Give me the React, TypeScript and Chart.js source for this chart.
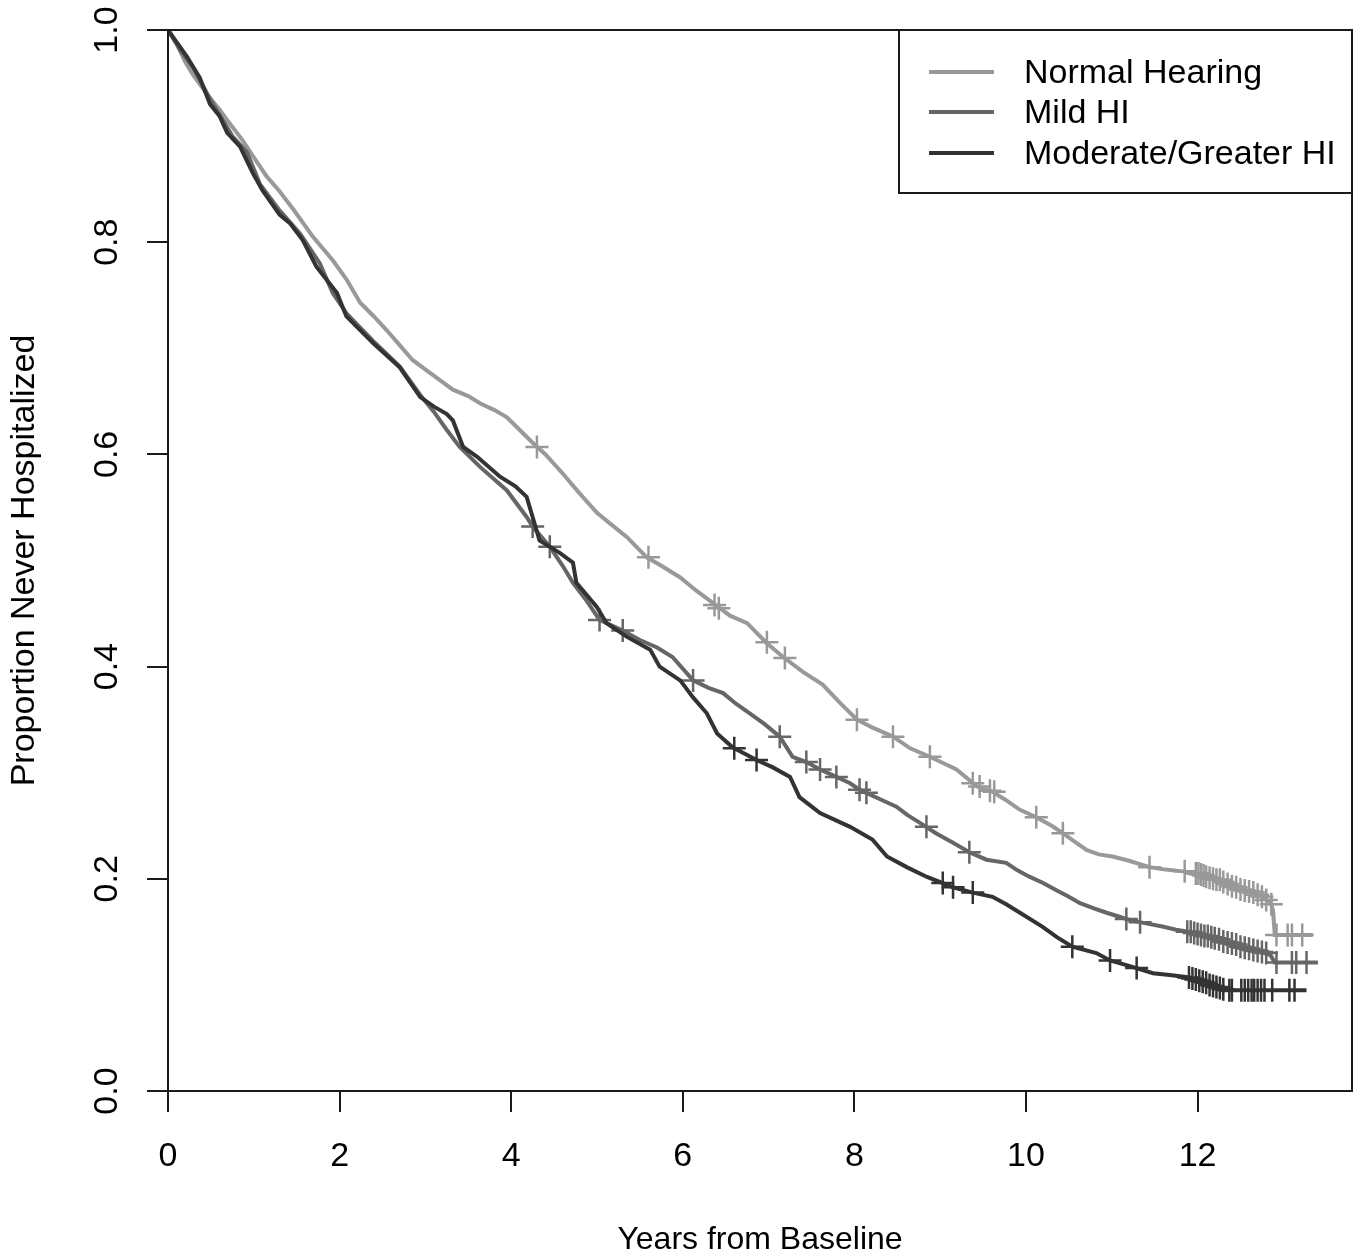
import React, { useEffect, useRef } from "react";
import { Chart, registerables } from "chart.js";

Chart.register(...registerables);

const FONT = '"Liberation Sans", Arial, Helvetica, sans-serif';

const seriesNames = ["Normal Hearing", "Mild HI", "Moderate/Greater HI"];
const seriesColors = ["#999999", "#666666", "#333333"];

const xTitle = "Years from Baseline";
const yTitle = "Proportion Never Hospitalized";

// Normal Hearing survival curve (years, proportion)
const normalT = [0, 0.1, 0.2, 0.29, 0.45, 0.6, 0.69, 0.87, 1.0, 1.15, 1.3, 1.46, 1.69, 1.92, 2.08, 2.24, 2.4, 2.55, 2.7, 2.85, 3.05, 3.32, 3.5, 3.64, 3.8, 3.95, 4.1, 4.25, 4.4, 4.6, 4.8, 5.0, 5.15, 5.35, 5.58, 5.75, 5.97, 6.15, 6.35, 6.55, 6.75, 6.98, 7.17, 7.4, 7.63, 7.83, 8.03, 8.2, 8.45, 8.65, 8.88, 9.19, 9.43, 9.61, 9.75, 9.93, 10.12, 10.3, 10.43, 10.55, 10.71, 10.85, 11.01, 11.2, 11.44, 11.6, 11.83, 12.0, 12.25, 12.5, 12.7, 12.85, 12.88, 12.9, 13.34];
const normalS = [1.0, 0.987, 0.97, 0.958, 0.94, 0.925, 0.915, 0.896, 0.88, 0.862, 0.848, 0.831, 0.805, 0.783, 0.765, 0.743, 0.73, 0.717, 0.703, 0.689, 0.677, 0.661, 0.655, 0.648, 0.642, 0.635, 0.623, 0.611, 0.6, 0.582, 0.563, 0.545, 0.535, 0.522, 0.503, 0.495, 0.484, 0.472, 0.46, 0.448, 0.441, 0.422, 0.409, 0.395, 0.383, 0.366, 0.35, 0.343, 0.334, 0.323, 0.315, 0.303, 0.287, 0.282, 0.275, 0.265, 0.258, 0.25, 0.243, 0.236, 0.227, 0.223, 0.221, 0.217, 0.211, 0.209, 0.207, 0.205, 0.199, 0.19, 0.185, 0.178, 0.17, 0.147, 0.147];
const normalCensT = [4.3, 5.6, 6.37, 6.42, 6.98, 7.19, 8.03, 8.45, 8.88, 9.38, 9.46, 9.58, 9.63, 10.12, 10.43, 11.44, 11.85, 11.98, 12.01, 12.04, 12.07, 12.1, 12.14, 12.18, 12.22, 12.26, 12.3, 12.35, 12.4, 12.45, 12.5, 12.55, 12.6, 12.65, 12.7, 12.75, 12.8, 12.86, 12.92, 13.05, 13.1, 13.22];
const normalCensS = [0.607, 0.503, 0.458, 0.455, 0.423, 0.408, 0.35, 0.334, 0.315, 0.29, 0.287, 0.283, 0.282, 0.258, 0.243, 0.211, 0.207, 0.205, 0.205, 0.204, 0.203, 0.202, 0.201, 0.2, 0.199, 0.199, 0.197, 0.195, 0.193, 0.192, 0.19, 0.189, 0.188, 0.187, 0.185, 0.183, 0.18, 0.176, 0.147, 0.147, 0.147, 0.147];

// Mild HI
const mildT = [0, 0.15, 0.29, 0.49, 0.6, 0.75, 0.92, 1.07, 1.3, 1.54, 1.77, 1.92, 2.08, 2.39, 2.7, 2.94, 3.1, 3.25, 3.4, 3.64, 3.95, 4.18, 4.25, 4.45, 4.6, 4.72, 4.88, 5.03, 5.3, 5.5, 5.7, 5.88, 6.12, 6.3, 6.47, 6.62, 6.78, 6.95, 7.13, 7.28, 7.44, 7.6, 7.79, 7.95, 8.06, 8.14, 8.3, 8.49, 8.62, 8.76, 8.95, 9.15, 9.34, 9.54, 9.77, 9.9, 10.04, 10.2, 10.36, 10.5, 10.63, 10.8, 10.94, 11.1, 11.21, 11.4, 11.59, 11.75, 11.91, 12.1, 12.3, 12.5, 12.7, 12.85, 12.9, 13.4];
const mildS = [1.0, 0.98, 0.965, 0.935, 0.92, 0.9, 0.885, 0.855, 0.83, 0.808, 0.78, 0.752, 0.733, 0.707, 0.683, 0.656, 0.64, 0.623, 0.607, 0.588, 0.566, 0.541, 0.532, 0.513, 0.495, 0.479, 0.462, 0.444, 0.434, 0.425, 0.418, 0.409, 0.387, 0.38, 0.375, 0.365, 0.356, 0.346, 0.334, 0.315, 0.31, 0.303, 0.296, 0.29, 0.284, 0.281, 0.275, 0.268, 0.26, 0.253, 0.243, 0.234, 0.225, 0.218, 0.215, 0.208, 0.202, 0.196, 0.189, 0.183, 0.177, 0.172, 0.168, 0.164, 0.161, 0.158, 0.155, 0.152, 0.15, 0.146, 0.141, 0.136, 0.132, 0.128, 0.121, 0.121];
const mildCensT = [4.25, 4.45, 5.03, 5.3, 6.12, 7.13, 7.44, 7.6, 7.79, 8.06, 8.14, 8.84, 9.34, 11.17, 11.33, 11.88, 11.92, 11.96, 12.0, 12.04, 12.08, 12.12, 12.16, 12.2, 12.25, 12.3, 12.35, 12.4, 12.45, 12.5, 12.55, 12.6, 12.65, 12.7, 12.75, 12.8, 12.92, 13.1, 13.15, 13.27];
const mildCensS = [0.532, 0.513, 0.444, 0.434, 0.387, 0.334, 0.31, 0.303, 0.296, 0.284, 0.281, 0.249, 0.225, 0.162, 0.159, 0.15, 0.15, 0.149, 0.148, 0.147, 0.146, 0.146, 0.145, 0.144, 0.143, 0.141, 0.14, 0.139, 0.138, 0.136, 0.135, 0.134, 0.133, 0.132, 0.131, 0.13, 0.121, 0.121, 0.121, 0.121];

// Moderate/Greater HI
const modT = [0, 0.22, 0.37, 0.49, 0.6, 0.69, 0.84, 0.99, 1.1, 1.3, 1.42, 1.57, 1.73, 1.97, 2.08, 2.39, 2.7, 2.94, 3.1, 3.25, 3.32, 3.44, 3.6, 3.87, 4.05, 4.18, 4.25, 4.33, 4.57, 4.72, 4.76, 5.0, 5.11, 5.35, 5.62, 5.73, 5.97, 6.12, 6.28, 6.4, 6.58, 6.86, 7.05, 7.25, 7.36, 7.6, 7.95, 8.21, 8.38, 8.61, 8.84, 9.03, 9.15, 9.38, 9.61, 9.77, 9.93, 10.19, 10.36, 10.54, 10.82, 10.98, 11.24, 11.48, 11.7, 11.91, 12.05, 12.15, 12.3, 13.27];
const modS = [1.0, 0.975, 0.955, 0.93, 0.919, 0.903, 0.89, 0.865, 0.849, 0.826, 0.818, 0.802, 0.777, 0.752, 0.73, 0.705, 0.682, 0.654, 0.645, 0.638, 0.632, 0.607, 0.598, 0.579, 0.57, 0.56, 0.541, 0.519, 0.507, 0.498, 0.479, 0.456, 0.441, 0.428, 0.416, 0.4, 0.387, 0.371, 0.356, 0.337, 0.324, 0.312, 0.305, 0.296, 0.277, 0.262, 0.249, 0.237, 0.221, 0.211, 0.202, 0.196, 0.192, 0.187, 0.183, 0.176, 0.168, 0.155, 0.145, 0.136, 0.13, 0.123, 0.117, 0.111, 0.109, 0.107, 0.103, 0.099, 0.095, 0.095];
const modCensT = [6.6, 6.86, 9.03, 9.15, 9.38, 10.54, 10.98, 11.29, 11.9, 11.94, 11.98, 12.02, 12.06, 12.1, 12.14, 12.18, 12.22, 12.26, 12.3, 12.37, 12.4, 12.51, 12.55, 12.59, 12.63, 12.66, 12.7, 12.74, 12.78, 12.87, 13.07, 13.13];
const modCensS = [0.323, 0.312, 0.196, 0.192, 0.187, 0.136, 0.123, 0.116, 0.107, 0.106, 0.105, 0.104, 0.103, 0.102, 0.1, 0.099, 0.098, 0.097, 0.096, 0.095, 0.095, 0.095, 0.095, 0.095, 0.095, 0.095, 0.095, 0.095, 0.095, 0.095, 0.095, 0.095];

const xMin = 0;
const xMax = 13.8;
const xStep = 2;
const yMin = 0;
const yMax = 1;
const yStep = 0.2;

const toXY = (t: number[], s: number[]) => t.map((x, i) => ({ x, y: s[i] }));

const boxPlugin = {
  id: "plotBox",
  afterDatasetsDraw(chart: any) {
    const { ctx, chartArea } = chart;
    ctx.save();
    ctx.strokeStyle = "#1a1a1a";
    ctx.lineWidth = 2;
    ctx.strokeRect(chartArea.left, chartArea.top, chartArea.right - chartArea.left, chartArea.bottom - chartArea.top);
    ctx.restore();
  },
};

const legendPlugin = {
  id: "kmLegend",
  afterDraw(chart: any) {
    const { ctx, chartArea } = chart;
    const right = chartArea.right;
    const top = chartArea.top;
    const w = 453;
    const h = 163;
    const left = right - w;
    ctx.save();
    ctx.fillStyle = "#ffffff";
    ctx.fillRect(left, top, w, h);
    ctx.strokeStyle = "#1a1a1a";
    ctx.lineWidth = 2;
    ctx.strokeRect(left, top, w, h);
    ctx.font = `34px ${FONT}`;
    ctx.textBaseline = "middle";
    ctx.textAlign = "left";
    const rowY = [42, 82, 123];
    seriesNames.forEach((name, i) => {
      const y = top + rowY[i];
      ctx.strokeStyle = seriesColors[i];
      ctx.lineWidth = 4;
      ctx.beginPath();
      ctx.moveTo(left + 30, y);
      ctx.lineTo(left + 95, y);
      ctx.stroke();
      ctx.fillStyle = "#000000";
      ctx.fillText(name, left + 125, y + 2);
    });
    ctx.restore();
  },
};

export default function App() {
  const ref = useRef<HTMLCanvasElement>(null);

  useEffect(() => {
    const canvas = ref.current;
    if (!canvas) return;

    const lineDs = (i: number, t: number[], s: number[], order: number) => ({
      label: seriesNames[i],
      data: toXY(t, s),
      borderColor: seriesColors[i],
      backgroundColor: seriesColors[i],
      borderWidth: 4,
      pointRadius: 0,
      pointHoverRadius: 0,
      fill: false,
      tension: 0,
      order,
    });
    const censDs = (i: number, t: number[], s: number[], order: number) => ({
      label: seriesNames[i] + " censored",
      data: toXY(t, s),
      showLine: false,
      pointStyle: "cross",
      pointRadius: 11.5,
      pointHoverRadius: 11.5,
      pointBorderWidth: 2.5,
      pointBorderColor: seriesColors[i],
      pointBackgroundColor: seriesColors[i],
      borderColor: seriesColors[i],
      order,
    });

    const axisGrid = {
      drawOnChartArea: false,
      drawTicks: true,
      tickLength: 21,
      tickWidth: 2,
      tickColor: "#1a1a1a",
      lineWidth: 2,
      color: "#1a1a1a",
    };

    const chart = new Chart(canvas, {
      type: "line",
      data: {
        datasets: [
          lineDs(0, normalT, normalS, 6),
          censDs(0, normalCensT, normalCensS, 5),
          lineDs(1, mildT, mildS, 4),
          censDs(1, mildCensT, mildCensS, 3),
          lineDs(2, modT, modS, 2),
          censDs(2, modCensT, modCensS, 1),
        ] as any,
      },
      options: {
        animation: false,
        responsive: false,
        events: [],
        layout: { autoPadding: false, padding: { left: 0, top: 30, right: 10, bottom: 0 } },
        plugins: {
          legend: { display: false },
          tooltip: { enabled: false },
        },
        scales: {
          x: {
            type: "linear",
            min: xMin,
            max: xMax,
            ticks: {
              stepSize: xStep,
              includeBounds: false,
              autoSkip: false,
              maxRotation: 0,
              padding: 28,
              color: "#000000",
              font: { family: FONT, size: 34, lineHeight: 1 },
            },
            grid: axisGrid,
            border: { display: true, color: "#1a1a1a", width: 2 },
            title: {
              display: true,
              text: xTitle,
              color: "#000000",
              font: { family: FONT, size: 32, lineHeight: 1 },
              padding: { top: 0, bottom: 1 },
            },
            afterFit(scale: any) {
              scale.height = 166;
              scale.paddingLeft = 0;
              scale.paddingRight = 0;
            },
          },
          y: {
            type: "linear",
            min: yMin,
            max: yMax,
            ticks: {
              stepSize: yStep,
              includeBounds: false,
              autoSkip: false,
              minRotation: 90,
              maxRotation: 90,
              crossAlign: "center",
              padding: 16,
              color: "#000000",
              font: { family: FONT, size: 34, lineHeight: 1 },
              callback: (v: any) => Number(v).toFixed(1),
            },
            grid: axisGrid,
            border: { display: true, color: "#1a1a1a", width: 2 },
            title: {
              display: true,
              text: yTitle,
              color: "#000000",
              font: { family: FONT, size: 34, lineHeight: 1 },
              padding: { top: 8, bottom: 0 },
            },
            afterFit(scale: any) {
              scale.width = 168;
              scale.paddingTop = 0;
              scale.paddingBottom = 0;
            },
          },
        },
      } as any,
      plugins: [boxPlugin, legendPlugin],
    });

    return () => chart.destroy();
  }, []);

  return (
    <div style={{ position: "absolute", left: 0, top: 0, width: 1362, height: 1257, background: "#ffffff" }}>
      <canvas ref={ref} width={1362} height={1257} style={{ display: "block" }} />
    </div>
  );
}
